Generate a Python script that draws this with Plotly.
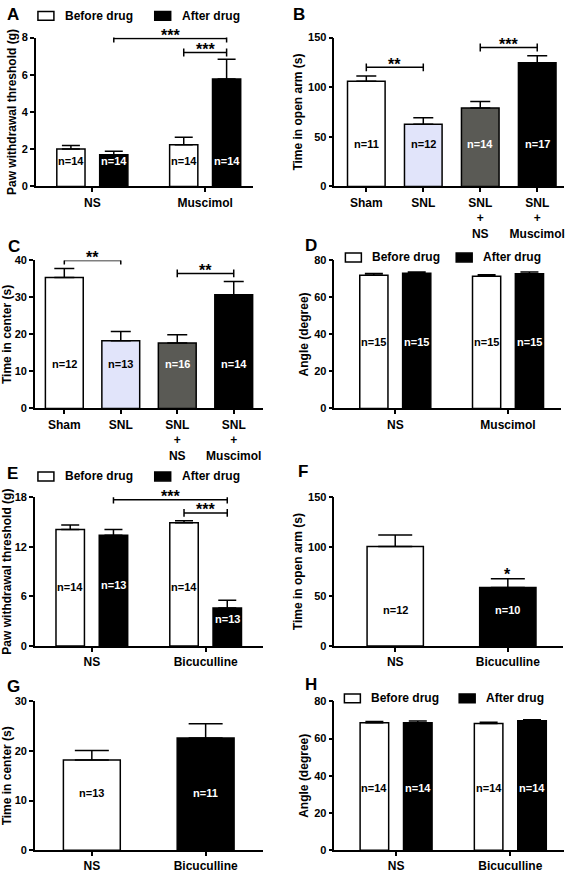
import plotly.graph_objects as go

W, H = 567, 874

# ---------------- data ----------------
# A: paw withdrawal threshold (g), muscimol
a_groups = ["NS", "Muscimol"]
a_before = [2.02, 2.24]
a_before_err = [0.18, 0.41]
a_after = [1.71, 5.77]
a_after_err = [0.18, 1.06]
a_n_before = [14, 14]
a_n_after = [14, 14]

# B: time in open arm (s)
b_cats = ["Sham", "SNL", "SNL + NS", "SNL + Muscimol"]
b_vals = [106.0, 62.6, 79.1, 124.6]
b_errs = [5.3, 6.6, 6.6, 7.2]
b_n = [11, 12, 14, 17]

# C: time in center (s)
c_cats = ["Sham", "SNL", "SNL + NS", "SNL + Muscimol"]
c_vals = [35.4, 18.3, 17.7, 30.7]
c_errs = [2.4, 2.5, 2.2, 3.6]
c_n = [12, 13, 16, 14]

# D: angle (degree), muscimol
d_groups = ["NS", "Muscimol"]
d_before = [72.0, 71.5]
d_before_err = [1.0, 0.8]
d_after = [73.1, 72.8]
d_after_err = [0.6, 1.0]
d_n_before = [15, 15]
d_n_after = [15, 15]

# E: paw withdrawal threshold (g), bicuculline
e_groups = ["NS", "Bicuculline"]
e_before = [14.1, 14.9]
e_before_err = [0.55, 0.25]
e_after = [13.4, 4.6]
e_after_err = [0.7, 0.95]
e_n_before = [14, 14]
e_n_after = [13, 13]

# F: time in open arm (s), bicuculline
f_cats = ["NS", "Bicuculline"]
f_vals = [100.3, 58.9]
f_errs = [11.5, 8.9]
f_n = [12, 10]

# G: time in center (s), bicuculline
g_cats = ["NS", "Bicuculline"]
g_vals = [18.2, 22.6]
g_errs = [1.9, 2.9]
g_n = [13, 11]

# H: angle (degree), bicuculline
h_groups = ["NS", "Bicuculline"]
h_before = [68.5, 68.1]
h_before_err = [0.7, 0.6]
h_after = [68.5, 69.6]
h_after_err = [0.9, 0.5]
h_n_before = [14, 14]
h_n_after = [14, 14]

# significance: (panel, left bar, right bar, bracket height, stars)
sig_marks = [
    ("A", ("NS", 1), ("Muscimol", 1), 7.95, "***"),
    ("A", ("Muscimol", 0), ("Muscimol", 1), 7.2, "***"),
    ("B", "Sham", "SNL", 120, "**"),
    ("B", "SNL + NS", "SNL + Muscimol", 140, "***"),
    ("C", "Sham", "SNL", 40, "**"),
    ("C", "SNL + NS", "SNL + Muscimol", 36.5, "**"),
    ("E", ("NS", 1), ("Bicuculline", 1), 17.7, "***"),
    ("E", ("Bicuculline", 0), ("Bicuculline", 1), 16.1, "***"),
    ("F", "Bicuculline", "Bicuculline", 69.5, "*"),
]

# ---------------- layout of panels (pixels: left, right, top, bottom) ----------------
panels = {
    "A": dict(box=(36, 253, 32, 183), xr=[-0.5, 1.42], ymax=8, dtick=2,
              title="Paw withdrawal threshold (g)"),
    "B": dict(box=(335, 565, 32, 183), xr=[-0.56, 3.47], ymax=150, dtick=50,
              title="Time in open arm (s)"),
    "C": dict(box=(35, 263, 258, 408), xr=[-0.52, 3.51], ymax=40, dtick=10,
              title="Time in center (s)"),
    "D": dict(box=(335, 562, 258, 408), xr=[-0.54, 1.47], ymax=80, dtick=20,
              title="Angle (degree)"),
    "E": dict(box=(35, 263, 498, 649), xr=[-0.5, 1.5], ymax=18, dtick=6,
              title="Paw withdrawal threshold (g)"),
    "F": dict(box=(335, 564, 498, 649), xr=[-0.54, 1.49], ymax=150, dtick=50,
              title="Time in open arm (s)"),
    "G": dict(box=(35, 263, 705, 856), xr=[-0.5, 1.5], ymax=30, dtick=10,
              title="Time in center (s)"),
    "H": dict(box=(335, 565, 705, 856), xr=[-0.54, 1.47], ymax=80, dtick=20,
              title="Angle (degree)"),
}
letters = {"A": (13, 9), "B": (300, 9), "C": (14, 244), "D": (312, 243),
           "E": (13, 474), "F": (304, 472), "G": (14, 690), "H": (312, 688)}
legends = {"A": (38, 155, 10), "D": (346, 457, 255), "E": (38, 155, 477), "H": (345, 460, 702)}

FONT = "Liberation Sans, Arial, sans-serif"
GROUP_SHIFT = 0.19
GROUP_W = 0.25

fig = go.Figure()
positions = {}


def ax_ids(p):
    i = "ABCDEFGH".index(p) + 1
    s = "" if i == 1 else str(i)
    return "x" + s, "y" + s


def px_x(v):
    return v / W


def px_y(v):
    return 1 - v / H


def err(arr, cap):
    return dict(type="data", symmetric=False, array=arr, arrayminus=[0] * len(arr),
                color="black", thickness=1.5, width=cap)


def n_label(p, x, frac, n, color):
    xa, ya = ax_ids(p)
    fig.add_annotation(x=x, y=frac, xref=xa, yref=ya + " domain", text="n=%d" % n,
                       showarrow=False, font=dict(family=FONT, size=11, color=color, weight="bold"))


def grouped(p, groups, before, before_err, after, after_err, n_before, n_after, fracs):
    xa, ya = ax_ids(p)
    series = [(before, before_err, n_before, "white", "black", -GROUP_SHIFT),
              (after, after_err, n_after, "black", "white", GROUP_SHIFT)]
    for k, (vals, errs, ns, fill, tcol, shift) in enumerate(series):
        fig.add_trace(go.Bar(x=groups, y=vals, width=GROUP_W, offset=shift - GROUP_W / 2,
                             marker=dict(color=fill, line=dict(color="black", width=1.5)),
                             error_y=err(errs, 9), xaxis=xa, yaxis=ya, showlegend=False))
        for i, n in enumerate(ns):
            positions[(p, (groups[i], k))] = i + shift
            n_label(p, i + shift, fracs[k][i], n, tcol)


def single(p, cats, vals, errs, ns, colors, tcolors, bw, cap, frac):
    xa, ya = ax_ids(p)
    fig.add_trace(go.Bar(x=cats, y=vals, width=bw,
                         marker=dict(color=colors, line=dict(color="black", width=1.5)),
                         error_y=err(errs, cap), xaxis=xa, yaxis=ya, showlegend=False))
    for i, n in enumerate(ns):
        positions[(p, cats[i])] = i
        n_label(p, i, frac, n, tcolors[i])


four_fill = ["white", "#E1E4FA", "#5A5A55", "black"]
four_text = ["black", "black", "white", "white"]

grouped("A", a_groups, a_before, a_before_err, a_after, a_after_err, a_n_before, a_n_after,
        [[0.117, 0.117], [0.117, 0.117]])
single("B", b_cats, b_vals, b_errs, b_n, four_fill, four_text, 0.66, 10, 0.23)
single("C", c_cats, c_vals, c_errs, c_n, four_fill, four_text, 0.67, 10, 0.243)
grouped("D", d_groups, d_before, d_before_err, d_after, d_after_err, d_n_before, d_n_after,
        [[0.45, 0.45], [0.45, 0.45]])
grouped("E", e_groups, e_before, e_before_err, e_after, e_after_err, e_n_before, e_n_after,
        [[0.40, 0.40], [0.41, 0.128]])
single("F", f_cats, f_vals, f_errs, f_n, ["white", "black"], ["black", "white"], 0.5, 17, 0.19)
single("G", g_cats, g_vals, g_errs, g_n, ["white", "black"], ["black", "white"], 0.5, 17, 0.33)
grouped("H", h_groups, h_before, h_before_err, h_after, h_after_err, h_n_before, h_n_after,
        [[0.42, 0.42], [0.42, 0.42]])

# axes
layout_axes = {}
for p, cfg in panels.items():
    l, r, t, b = cfg["box"]
    xa, ya = ax_ids(p)
    xkey = "xaxis" + xa[1:]
    ykey = "yaxis" + ya[1:]
    layout_axes[xkey] = dict(
        domain=[px_x(l), px_x(r)], anchor=ya, range=cfg["xr"], type="category",
        showline=True, linecolor="black", linewidth=1.5, ticks="outside", ticklen=4,
        tickwidth=1.5, tickcolor="black", showgrid=False, zeroline=False,
        tickfont=dict(family=FONT, size=12, color="black", weight="bold"),
        labelalias={c: c.replace(" + ", "<br>+<br>") for c in b_cats},
    )
    layout_axes[ykey] = dict(
        domain=[px_y(b), px_y(t)], anchor=xa, range=[0, cfg["ymax"]], dtick=cfg["dtick"],
        showline=True, linecolor="black", linewidth=1.5, ticks="outside", ticklen=4,
        tickwidth=1.5, tickcolor="black", showgrid=False, zeroline=False,
        tickfont=dict(family=FONT, size=11, color="black", weight="bold"),
        title=dict(text=cfg["title"], standoff=3,
                   font=dict(family=FONT, size=12, color="black", weight="bold")),
    )

# significance brackets
for p, left, right, y, stars in sig_marks:
    xa, ya = ax_ids(p)
    cfg = panels[p]
    tick = 4 * cfg["ymax"] / (cfg["box"][3] - cfg["box"][2])
    x0, x1 = positions[(p, left)], positions[(p, right)]
    line = dict(color="black", width=1.5)
    if x0 != x1:
        fig.add_shape(type="line", xref=xa, yref=ya, x0=x0, x1=x1, y0=y, y1=y, line=line)
        for xv in (x0, x1):
            fig.add_shape(type="line", xref=xa, yref=ya, x0=xv, x1=xv, y0=y - tick, y1=y + tick, line=line)
    fig.add_annotation(x=(x0 + x1) / 2, y=y, xref=xa, yref=ya, text=stars, showarrow=False,
                       yanchor="middle", yshift=3,
                       font=dict(family=FONT, size=16, color="black", weight="bold"))

# panel letters
for p, (x, y) in letters.items():
    fig.add_annotation(x=px_x(x), y=px_y(y), xref="paper", yref="paper", text=p, showarrow=False,
                       xanchor="center", yanchor="middle",
                       font=dict(family=FONT, size=17, color="black", weight="bold"))

# legends
for p, (xw, xb, yc) in legends.items():
    for x0, fill, label in [(xw, "white", "Before drug"), (xb, "black", "After drug")]:
        fig.add_shape(type="rect", xref="paper", yref="paper", x0=px_x(x0), x1=px_x(x0 + 16),
                      y0=px_y(yc + 4.5), y1=px_y(yc - 4.5), fillcolor=fill,
                      line=dict(color="black", width=1.5))
        fig.add_annotation(x=px_x(x0 + 25), y=px_y(yc), xref="paper", yref="paper", text=label,
                           showarrow=False, xanchor="left", yanchor="middle",
                           font=dict(family=FONT, size=12, color="black", weight="bold"))

fig.update_layout(
    width=W, height=H, margin=dict(l=0, r=0, t=0, b=0),
    paper_bgcolor="white", plot_bgcolor="white", barmode="overlay",
    showlegend=False, **layout_axes,
)

# drop the page's default body margin so the figure sits at the window's corner
fig.write_html("out.html", config={"displayModeBar": False},
               post_script="document.body.style.margin = '0';")
